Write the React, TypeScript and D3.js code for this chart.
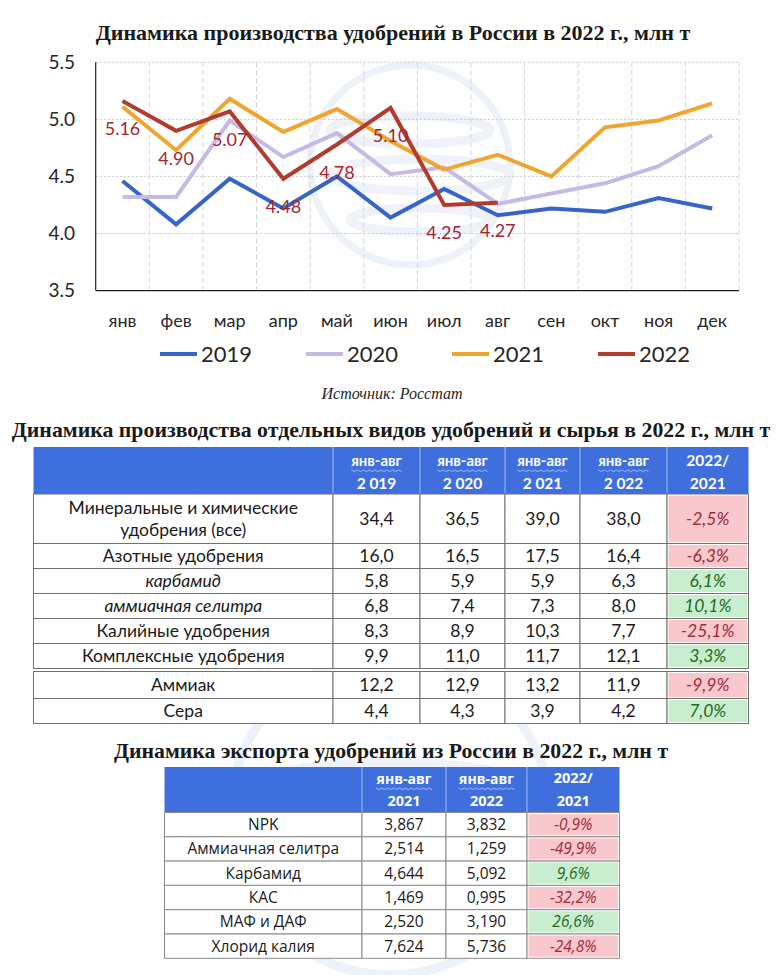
import React from "react";
import * as d3 from "d3";

// ---------- Chart data ----------
const months = ["янв", "фев", "мар", "апр", "май", "июн", "июл", "авг", "сен", "окт", "ноя", "дек"];
const seriesNames = ["2019", "2020", "2021", "2022"];
const prod2019 = [4.46, 4.08, 4.48, 4.22, 4.5, 4.14, 4.39, 4.16, 4.22, 4.19, 4.31, 4.22];
const prod2020 = [4.32, 4.32, 4.99, 4.67, 4.88, 4.52, 4.58, 4.26, 4.35, 4.44, 4.59, 4.86];
const prod2021 = [5.11, 4.73, 5.18, 4.89, 5.09, 4.81, 4.56, 4.69, 4.5, 4.93, 4.99, 5.14];
const prod2022 = [5.16, 4.9, 5.07, 4.48, 4.78, 5.1, 4.25, 4.27];
const yTicks = [3.5, 4.0, 4.5, 5.0, 5.5];
const seriesColors = ["#3764c8", "#c6b9e6", "#f1a530", "#b13b2c"];

// ---------- Table 1 data ----------
const t1Labels = [
  "Минеральные и химические|удобрения (все)",
  "Азотные удобрения",
  "карбамид",
  "аммиачная селитра",
  "Калийные удобрения",
  "Комплексные удобрения",
  "Аммиак",
  "Сера",
];
const t1Italic = [false, false, true, true, false, false, false, false];
const t1Headers = ["2 019", "2 020", "2 021", "2 022"];
const t1y2019 = [34.4, 16.0, 5.8, 6.8, 8.3, 9.9, 12.2, 4.4];
const t1y2020 = [36.5, 16.5, 5.9, 7.4, 8.9, 11.0, 12.9, 4.3];
const t1y2021 = [39.0, 17.5, 5.9, 7.3, 10.3, 11.7, 13.2, 3.9];
const t1y2022 = [38.0, 16.4, 6.3, 8.0, 7.7, 12.1, 11.9, 4.2];
const t1Change = [-2.5, -6.3, 6.1, 10.1, -25.1, 3.3, -9.9, 7.0];

// ---------- Table 2 data ----------
const t2Labels = ["NPK", "Аммиачная селитра", "Карбамид", "КАС", "МАФ и ДАФ", "Хлорид калия"];
const t2Headers = ["2021", "2022"];
const t2y2021 = [3.867, 2.514, 4.644, 1.469, 2.52, 7.624];
const t2y2022 = [3.832, 1.259, 5.092, 0.995, 3.19, 5.736];
const t2Change = [-0.9, -49.9, 9.6, -32.2, 26.6, -24.8];

const W = 783;
const H = 975;
const HEADER_BLUE = "#3f6fdc";
const PINK = "#f8c8cd";
const GREEN = "#c9eecf";
const RED_TXT = "#a0283a";
const GREEN_TXT = "#1d6b23";

const fixMinus = (s: string) => s.replace("\u2212", "-");
const f1 = (v: number) => fixMinus(d3.format(".1f")(v)).replace(".", ",");
const f3 = (v: number) => fixMinus(d3.format(".3f")(v)).replace(".", ",");
const fp = (v: number) => f1(v) + "%";

function Wavy({ cx, y, w }: { cx: number; y: number; w: number }) {
  const n = Math.round(w / 3);
  const pts: [number, number][] = d3.range(n + 1).map((i) => [cx - w / 2 + (i * w) / n, y + (i % 2 === 0 ? 0 : 1.6)]);
  return <path d={d3.line()(pts) || ""} fill="none" stroke="#a9bff5" strokeWidth={0.9} />;
}

export default function App() {
  // ----- line chart -----
  const plotL = 95.7, plotR = 739, plotT = 62.3, plotB = 290.6;
  const x = d3.scaleBand<string>().domain(months).range([plotL, plotR]).padding(0);
  const y = d3.scaleLinear().domain([3.5, 5.5]).range([plotB, plotT]);
  const cx = (m: string) => (x(m) as number) + x.bandwidth() / 2;
  const allSeries = [prod2019, prod2020, prod2021, prod2022];
  const line = d3
    .line<number>()
    .x((_, i) => cx(months[i]))
    .y((d) => y(d));

  const legendX = d3.scaleLinear().domain([0, 3]).range([160, 598]);

  // ----- table 1 layout -----
  const t1Cols = [33.5, 333, 420, 505, 580, 667, 748.5];
  const t1HeadTop = 447, t1HeadBot = 494;
  const t1RowH = [49.5, 25, 25, 25, 25, 25, 27, 25];
  const t1Gap = [0, 0, 0, 0, 0, 0, 3, 0];
  const t1RowTops: number[] = [];
  {
    let acc = t1HeadBot;
    t1RowH.forEach((h, i) => {
      acc += t1Gap[i];
      t1RowTops.push(acc);
      acc += h;
    });
  }
  const t1Values = [t1y2019, t1y2020, t1y2021, t1y2022];

  // ----- table 2 layout -----
  const t2Cols = [164.5, 362, 446, 527, 619.5];
  const t2HeadTop = 767, t2HeadBot = 812.5;
  const t2RowH = 24.3;
  const t2Values = [t2y2021, t2y2022];

  const bodyFont = "Lato, 'Open Sans', sans-serif";
  const t2Font = "'Open Sans', 'Noto Sans', sans-serif";
  const serif = "'Liberation Serif', 'Times New Roman', serif";

  return (
    <svg width={W} height={H} viewBox={`0 0 ${W} ${H}`} style={{ position: "absolute", left: 0, top: 0, background: "#fff" }}>
      <rect x={0} y={0} width={W} height={H} fill="#ffffff" />

      {/* watermark (globe) */}
      <g opacity={0.55}>
        <circle cx={410} cy={165} r={100} fill="none" stroke="#dfe6f3" strokeWidth={7} />
        <ellipse cx={410} cy={130} rx={80} ry={14} fill="none" stroke="#e3e9f5" strokeWidth={9} />
        <ellipse cx={420} cy={175} rx={90} ry={16} fill="none" stroke="#e3e9f5" strokeWidth={9} />
        <ellipse cx={420} cy={220} rx={70} ry={12} fill="none" stroke="#e3e9f5" strokeWidth={9} />
        <circle cx={390} cy={815} r={160} fill="none" stroke="#dfe6f3" strokeWidth={9} />
        <ellipse cx={390} cy={790} rx={140} ry={26} fill="none" stroke="#e3e9f5" strokeWidth={12} />
        <ellipse cx={400} cy={850} rx={150} ry={28} fill="none" stroke="#e3e9f5" strokeWidth={12} />
      </g>

      {/* ---------- Chart title ---------- */}
      <text x={393} y={40} textAnchor="middle" fontFamily={serif} fontWeight={700} fontSize={22} fill="#1a1a1a">
        Динамика производства удобрений в России в 2022 г., млн т
      </text>

      {/* gridlines */}
      {yTicks.filter((t) => t > 3.5).map((t) => (
        <line key={"gy" + t} x1={plotL} x2={plotR} y1={y(t)} y2={y(t)} stroke="#c8c8c8" strokeWidth={1} strokeDasharray="2,2" />
      ))}
      {months.slice(1).map((m) => (
        <line key={"gx" + m} x1={x(m)} x2={x(m)} y1={plotT} y2={plotB} stroke="#d6d6d6" strokeWidth={1} strokeDasharray="5,3" />
      ))}
      <line x1={plotR} x2={plotR} y1={plotT} y2={plotB} stroke="#d6d6d6" strokeWidth={1} strokeDasharray="5,3" />
      {/* axes */}
      <line x1={plotL} x2={plotL} y1={plotT} y2={plotB} stroke="#222" strokeWidth={1.2} />
      <line x1={plotL} x2={plotR} y1={plotB} y2={plotB} stroke="#222" strokeWidth={1.2} />

      {yTicks.map((t) => (
        <text key={"yt" + t} x={75} y={y(t)} dy="0.35em" textAnchor="end" fontFamily={bodyFont} fontSize={19} fill="#262626">
          {d3.format(".1f")(t)}
        </text>
      ))}
      {months.map((m) => (
        <text key={"xt" + m} x={cx(m)} y={321} dy="0.35em" textAnchor="middle" fontFamily={bodyFont} fontSize={18} fill="#262626">
          {m}
        </text>
      ))}

      {/* series lines */}
      {allSeries.map((s, i) => (
        <path key={"s" + i} d={line(s) || ""} fill="none" stroke={seriesColors[i]} strokeWidth={4} strokeLinejoin="miter" strokeLinecap="butt" />
      ))}

      {/* 2022 labels */}
      {prod2022.map((v, i) => (
        <text key={"lb" + i} x={cx(months[i])} y={y(v) + 28} dy="0.35em" textAnchor="middle" fontFamily={bodyFont} fontSize={18} fill="#a3262f">
          {d3.format(".2f")(v)}
        </text>
      ))}

      {/* legend */}
      {seriesNames.map((n, i) => (
        <g key={"lg" + n}>
          <line x1={legendX(i)} x2={legendX(i) + 37} y1={354} y2={354} stroke={seriesColors[i]} strokeWidth={4} />
          <text x={legendX(i) + 41} y={354} dy="0.35em" fontFamily={bodyFont} fontSize={22} fill="#262626">
            {n}
          </text>
        </g>
      ))}

      <text x={392} y={393} dy="0.35em" textAnchor="middle" fontFamily={serif} fontStyle="italic" fontSize={16} fill="#262626">
        Источник: Росстат
      </text>

      {/* ---------- Table 1 ---------- */}
      <text x={391} y={437} textAnchor="middle" fontFamily={serif} fontWeight={700} fontSize={21.8} fill="#1a1a1a">
        Динамика производства отдельных видов удобрений и сырья в 2022 г., млн т
      </text>
      <rect x={t1Cols[0]} y={t1HeadTop} width={t1Cols[6] - t1Cols[0]} height={t1HeadBot - t1HeadTop} fill={HEADER_BLUE} />
      {t1Cols.slice(1, 6).map((c, i) => (
        <line key={"t1hs" + i} x1={c} x2={c} y1={t1HeadTop} y2={t1HeadBot} stroke="#a9bdf0" strokeWidth={1} />
      ))}
      {t1Headers.map((h, i) => {
        const mx = (t1Cols[i + 1] + t1Cols[i + 2]) / 2;
        return (
          <g key={"t1h" + i}>
            <text x={mx} y={461} dy="0.35em" textAnchor="middle" fontFamily={bodyFont} fontWeight={700} fontSize={15} fill="#fff">
              янв-авг
            </text>
            <Wavy cx={mx} y={470} w={50} />
            <text x={mx} y={484} dy="0.35em" textAnchor="middle" fontFamily={bodyFont} fontWeight={700} fontSize={15.5} fill="#fff">
              {h}
            </text>
          </g>
        );
      })}
      <text x={(t1Cols[5] + t1Cols[6]) / 2} y={461} dy="0.35em" textAnchor="middle" fontFamily={bodyFont} fontWeight={700} fontSize={15.5} fill="#fff">
        2022/
      </text>
      <text x={(t1Cols[5] + t1Cols[6]) / 2} y={484} dy="0.35em" textAnchor="middle" fontFamily={bodyFont} fontWeight={700} fontSize={15.5} fill="#fff">
        2021
      </text>

      {t1Labels.map((lab, r) => {
        const top = t1RowTops[r];
        const h = t1RowH[r];
        const mid = top + h / 2;
        const lines = lab.split("|");
        const ch = t1Change[r];
        return (
          <g key={"t1r" + r}>
            {t1Cols.slice(0, 6).map((c, k) => (
              <rect key={"c" + k} x={c} y={top} width={t1Cols[k + 1] - c} height={h} fill="#fff" stroke="#707070" strokeWidth={1} />
            ))}
            <rect x={t1Cols[5] + 1.5} y={top + 1.5} width={t1Cols[6] - t1Cols[5] - 3} height={h - 3} fill={ch < 0 ? PINK : GREEN} />
            {lines.map((ln, li) => (
              <text
                key={"l" + li}
                x={(t1Cols[0] + t1Cols[1]) / 2}
                y={mid + (li - (lines.length - 1) / 2) * 22}
                dy="0.35em"
                textAnchor="middle"
                fontFamily={bodyFont}
                fontStyle={t1Italic[r] ? "italic" : "normal"}
                fontSize={17.5}
                fill="#1a1a1a"
              >
                {ln}
              </text>
            ))}
            {t1Values.map((vals, k) => (
              <text key={"v" + k} x={(t1Cols[k + 1] + t1Cols[k + 2]) / 2} y={mid} dy="0.35em" textAnchor="middle" fontFamily={bodyFont} fontSize={17.5} fill="#1a1a1a">
                {f1(vals[r])}
              </text>
            ))}
            <text x={(t1Cols[5] + t1Cols[6]) / 2} y={mid} dy="0.35em" textAnchor="middle" fontFamily={bodyFont} fontStyle="italic" fontSize={17.5} fill={ch < 0 ? RED_TXT : GREEN_TXT}>
              {fp(ch)}
            </text>
          </g>
        );
      })}

      {/* ---------- Table 2 ---------- */}
      <text x={391} y={758} textAnchor="middle" fontFamily={serif} fontWeight={700} fontSize={21.8} fill="#1a1a1a">
        Динамика экспорта удобрений из России в 2022 г., млн т
      </text>
      <rect x={t2Cols[0]} y={t2HeadTop} width={t2Cols[4] - t2Cols[0]} height={t2HeadBot - t2HeadTop} fill={HEADER_BLUE} />
      {t2Cols.slice(1, 4).map((c, i) => (
        <line key={"t2hs" + i} x1={c} x2={c} y1={t2HeadTop} y2={t2HeadBot} stroke="#a9bdf0" strokeWidth={1} />
      ))}
      {t2Headers.map((h, i) => {
        const mx = (t2Cols[i + 1] + t2Cols[i + 2]) / 2;
        return (
          <g key={"t2h" + i}>
            <text x={mx} y={779} dy="0.35em" textAnchor="middle" fontFamily={t2Font} fontWeight={700} fontSize={14} fill="#fff">
              янв-авг
            </text>
            <Wavy cx={mx} y={788} w={56} />
            <text x={mx} y={801} dy="0.35em" textAnchor="middle" fontFamily={t2Font} fontWeight={700} fontSize={14.5} fill="#fff">
              {h}
            </text>
          </g>
        );
      })}
      <text x={(t2Cols[3] + t2Cols[4]) / 2} y={778} dy="0.35em" textAnchor="middle" fontFamily={t2Font} fontWeight={700} fontSize={14.5} fill="#fff">
        2022/
      </text>
      <text x={(t2Cols[3] + t2Cols[4]) / 2} y={801} dy="0.35em" textAnchor="middle" fontFamily={t2Font} fontWeight={700} fontSize={14.5} fill="#fff">
        2021
      </text>
      {t2Labels.map((lab, r) => {
        const top = t2HeadBot + r * t2RowH;
        const mid = top + t2RowH / 2;
        const ch = t2Change[r];
        return (
          <g key={"t2r" + r}>
            {t2Cols.slice(0, 4).map((c, k) => (
              <rect key={"c" + k} x={c} y={top} width={t2Cols[k + 1] - c} height={t2RowH} fill="#fff" stroke="#8a8a8a" strokeWidth={1} />
            ))}
            <rect x={t2Cols[3] + 1.5} y={top + 1.5} width={t2Cols[4] - t2Cols[3] - 3} height={t2RowH - 3} fill={ch < 0 ? PINK : GREEN} />
            <text x={(t2Cols[0] + t2Cols[1]) / 2} y={mid} dy="0.35em" textAnchor="middle" fontFamily={t2Font} fontSize={15.5} fill="#1a1a1a">
              {lab}
            </text>
            {t2Values.map((vals, k) => (
              <text key={"v" + k} x={(t2Cols[k + 1] + t2Cols[k + 2]) / 2} y={mid} dy="0.35em" textAnchor="middle" fontFamily={t2Font} fontSize={15.5} fill="#1a1a1a">
                {f3(vals[r])}
              </text>
            ))}
            <text x={(t2Cols[3] + t2Cols[4]) / 2} y={mid} dy="0.35em" textAnchor="middle" fontFamily={t2Font} fontStyle="italic" fontSize={15.5} fill={ch < 0 ? RED_TXT : GREEN_TXT}>
              {fp(ch)}
            </text>
          </g>
        );
      })}
    </svg>
  );
}
